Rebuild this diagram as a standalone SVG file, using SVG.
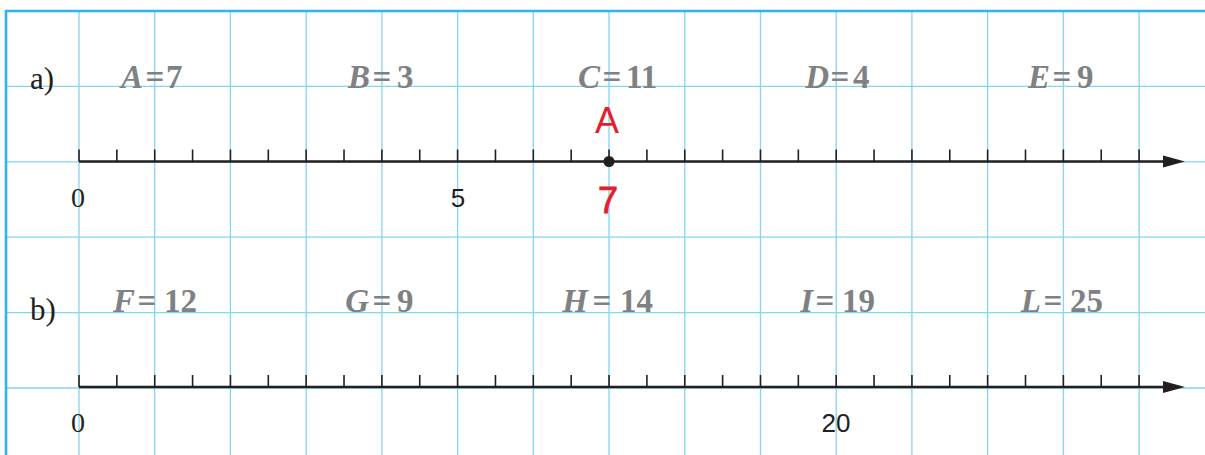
<svg xmlns="http://www.w3.org/2000/svg" width="1205" height="455" viewBox="0 0 1205 455">
<style>
.grid{stroke:#86d3f2;stroke-width:1.3;fill:none}
.border{stroke:#2bb5ea;stroke-width:2.6;fill:none}
.axis{stroke:#231f20;stroke-width:2.6;fill:none}
.tick{stroke:#231f20;stroke-width:1.6}
.arrow{fill:#231f20}
.lbl{font-family:"Liberation Serif",serif;font-weight:bold;font-size:33px;fill:#808184}
.lbl .v{font-style:italic}
.part{font-family:"Liberation Serif",serif;font-size:31px;fill:#231f20}
.num{font-family:"Liberation Sans",sans-serif;font-size:26px;fill:#231f20;text-anchor:middle}
.zero{font-family:"Liberation Serif",serif;font-size:28px;fill:#231f20;text-anchor:middle}
.red{font-family:"Liberation Sans",sans-serif;fill:#e5202a;text-anchor:middle}
</style>
<defs>
<g id="ticks">
<path class="tick" d="M79,0v-12M116.86,0v-12M154.72,0v-12M192.58,0v-12M230.44,0v-12M268.3,0v-12M306.16,0v-12M344.02,0v-12M381.88,0v-12M419.74,0v-12M457.6,0v-12M495.46,0v-12M533.32,0v-12M571.18,0v-12M609.04,0v-12M646.9,0v-12M684.76,0v-12M722.62,0v-12M760.48,0v-12M798.34,0v-12M836.2,0v-12M874.06,0v-12M911.92,0v-12M949.78,0v-12M987.64,0v-12M1025.5,0v-12M1063.36,0v-12M1101.22,0v-12M1139.08,0v-12"/>
</g>
</defs>
<rect width="1205" height="455" fill="#ffffff"/>
<g id="grid">
<path class="grid" d="M79,11V455M154.7,11V455M230.4,11V455M306.2,11V455M381.9,11V455M457.6,11V455M533.3,11V455M609,11V455M684.8,11V455M760.5,11V455M836.2,11V455M911.9,11V455M987.6,11V455M1063.4,11V455M1139.1,11V455"/>
<path class="grid" d="M6,86.4H1205M6,161.8H1205M6,237.2H1205M6,312.6H1205M6,388H1205"/>
<path class="border" d="M6,455V11H1205"/>
</g>
<g id="connectors">
<g id="axis-a">
<path class="axis" d="M79,161.5H1166"/>
<use href="#ticks" transform="translate(0,161.5)"/>
<polygon class="arrow" points="1163,155.5 1185,161.5 1163,167.5"/>
</g>
<g id="axis-b">
<path class="axis" d="M79,387H1166"/>
<use href="#ticks" transform="translate(0,387)"/>
<polygon class="arrow" points="1163,381 1185,387 1163,393"/>
</g>
</g>
<g id="part-a">
<text class="part" x="30" y="89">a)</text>
</g>
<g id="part-b">
<text class="part" x="30" y="320">b)</text>
</g>
<g id="label-A"><text class="lbl" y="88"><tspan class="v" x="143" text-anchor="end">A</tspan><tspan x="155" text-anchor="middle">=</tspan><tspan x="166" text-anchor="start">7</tspan></text></g>
<g id="label-B"><text class="lbl" y="88"><tspan class="v" x="370" text-anchor="end">B</tspan><tspan x="382" text-anchor="middle">=</tspan><tspan x="397" text-anchor="start">3</tspan></text></g>
<g id="label-C"><text class="lbl" y="88"><tspan class="v" x="600" text-anchor="end">C</tspan><tspan x="612" text-anchor="middle">=</tspan><tspan x="626" text-anchor="start">11</tspan></text></g>
<g id="label-D"><text class="lbl" y="88"><tspan class="v" x="829" text-anchor="end">D</tspan><tspan x="840" text-anchor="middle">=</tspan><tspan x="853" text-anchor="start">4</tspan></text></g>
<g id="label-E"><text class="lbl" y="88"><tspan class="v" x="1050" text-anchor="end">E</tspan><tspan x="1062" text-anchor="middle">=</tspan><tspan x="1077" text-anchor="start">9</tspan></text></g>
<g id="label-F"><text class="lbl" y="312"><tspan class="v" x="135" text-anchor="end">F</tspan><tspan x="147" text-anchor="middle">=</tspan><tspan x="164" text-anchor="start">12</tspan></text></g>
<g id="label-G"><text class="lbl" y="312"><tspan class="v" x="369" text-anchor="end">G</tspan><tspan x="382" text-anchor="middle">=</tspan><tspan x="397" text-anchor="start">9</tspan></text></g>
<g id="label-H"><text class="lbl" y="312"><tspan class="v" x="588" text-anchor="end">H</tspan><tspan x="602" text-anchor="middle">=</tspan><tspan x="620" text-anchor="start">14</tspan></text></g>
<g id="label-I"><text class="lbl" y="312"><tspan class="v" x="813" text-anchor="end">I</tspan><tspan x="825" text-anchor="middle">=</tspan><tspan x="842" text-anchor="start">19</tspan></text></g>
<g id="label-L"><text class="lbl" y="312"><tspan class="v" x="1041" text-anchor="end">L</tspan><tspan x="1053" text-anchor="middle">=</tspan><tspan x="1070" text-anchor="start">25</tspan></text></g>
<g id="numbers-a">
<text class="zero" x="78" y="207">0</text>
<text class="num" x="458" y="207">5</text>
</g>
<g id="numbers-b">
<text class="zero" x="78" y="432">0</text>
<text class="num" x="836" y="432">20</text>
</g>
<g id="point-A">
<circle cx="609" cy="161.5" r="5.5" fill="#231f20"/>
<text class="red" x="607" y="133" font-size="36">A</text>
<text class="red" x="608" y="213" font-size="36" stroke="#e5202a" stroke-width="0.8">7</text>
</g>
</svg>
